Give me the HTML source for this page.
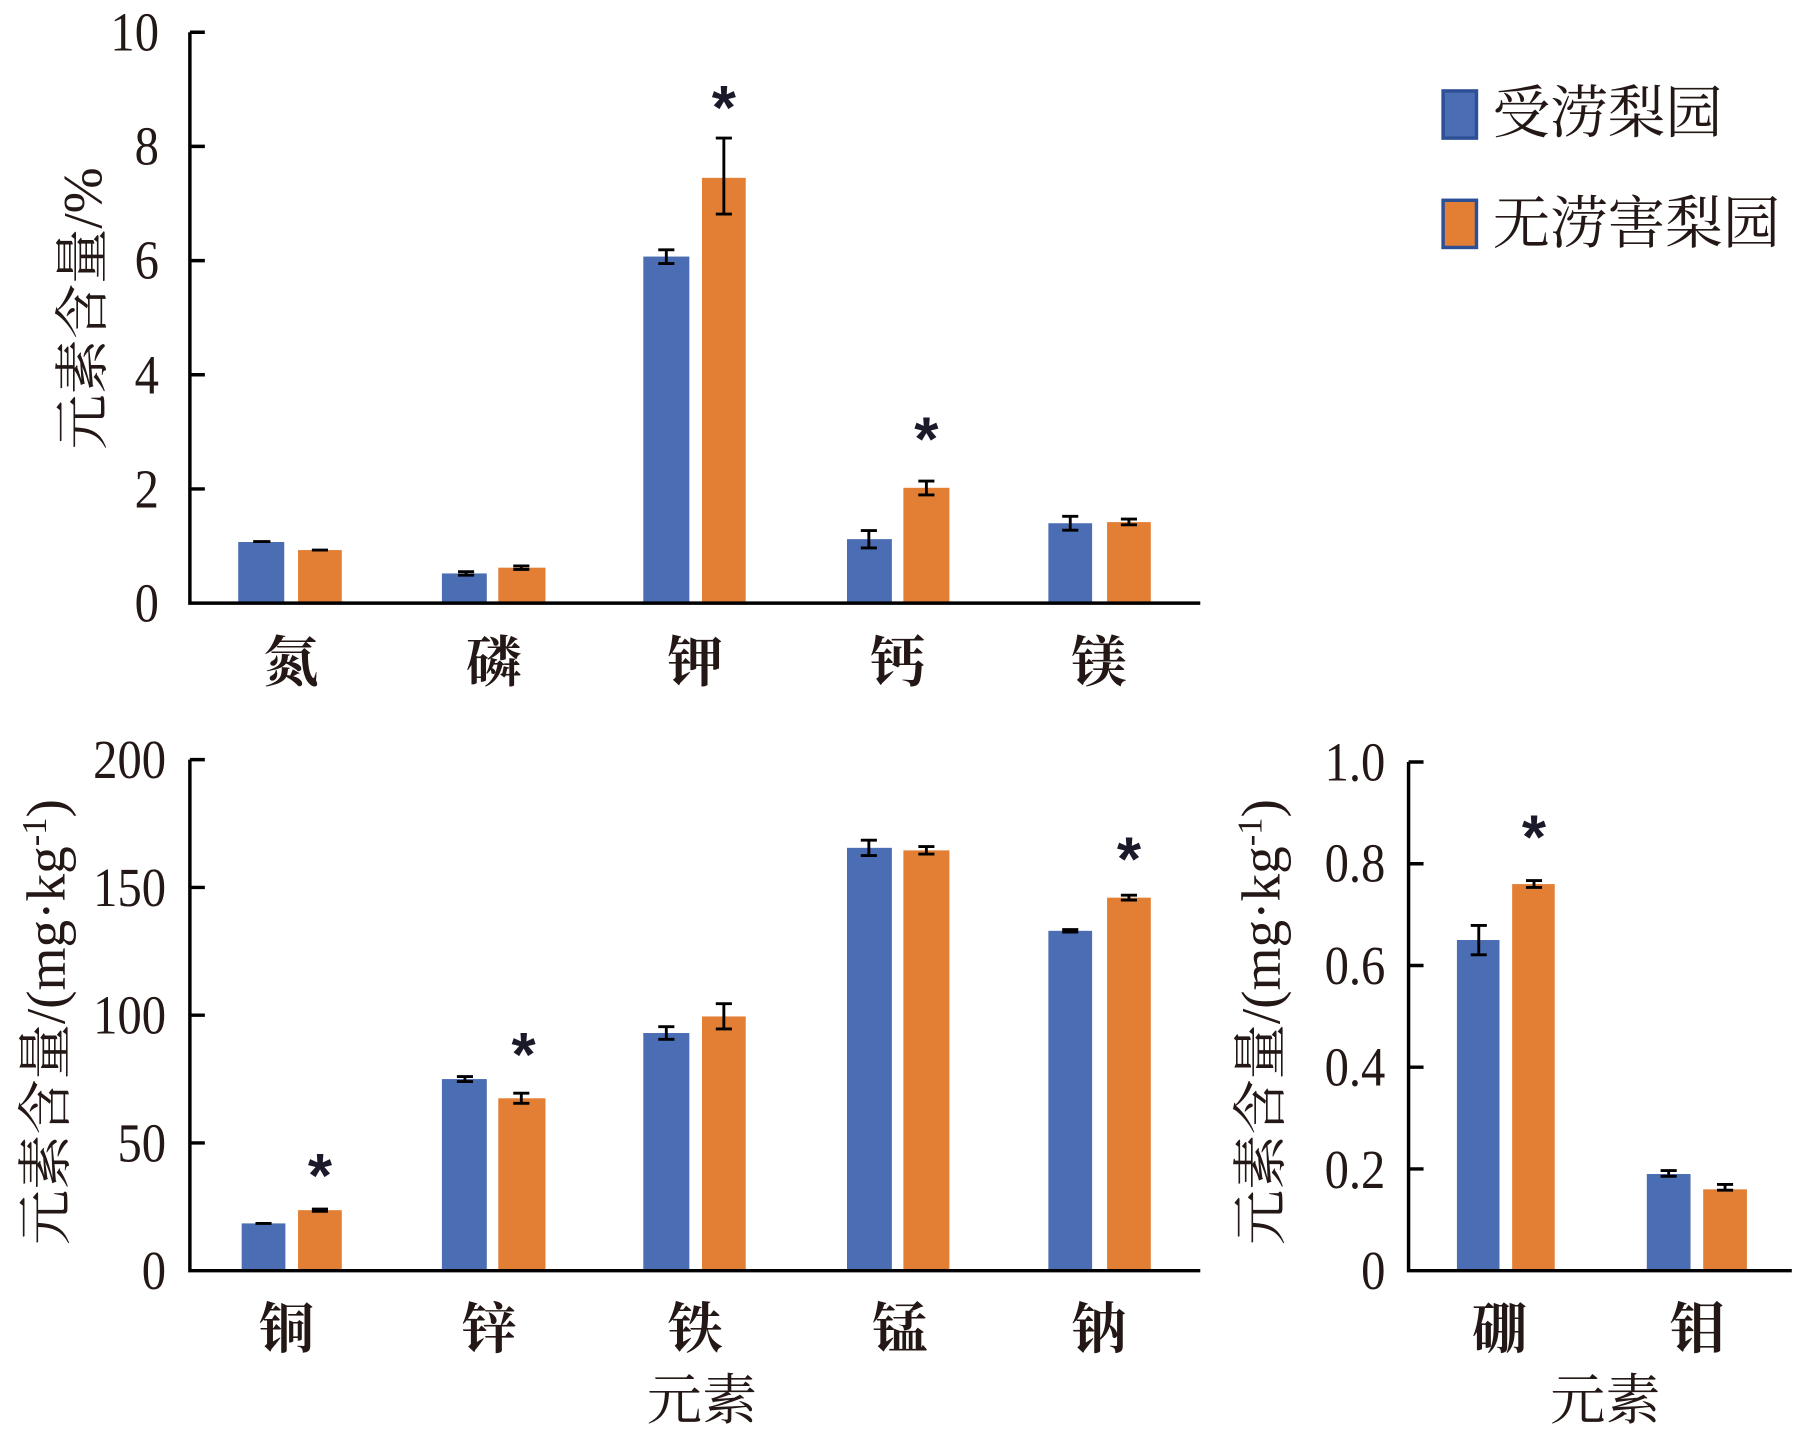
<!DOCTYPE html>
<html><head><meta charset="utf-8"><style>
html,body{margin:0;padding:0;background:#fff;width:1801px;height:1433px;overflow:hidden}
svg{display:block}
text{font-family:"Liberation Serif","Noto Serif CJK SC",serif;fill:#231815}
.n{font-size:48px}
.c{font-family:"Liberation Serif","Noto Serif CJK SC",serif;font-size:48px;font-weight:bold}
.b{fill:#4a6db3}.o{fill:#e37f35}
.ax{stroke:#000;stroke-width:3;fill:none}
.e{stroke:#000;stroke-width:2.5;fill:none}
.s{font-family:"Liberation Sans",sans-serif;font-size:54px;font-weight:bold;fill:#1a1a2a}
</style></head><body>
<svg width="1801" height="1433" viewBox="0 0 1565 1245" preserveAspectRatio="none" xmlns="http://www.w3.org/2000/svg">
<g>
<rect class="b" x="207" y="470.9" width="40" height="53.1"/>
<rect class="o" x="259" y="477.9" width="38" height="46.1"/>
<rect class="b" x="384" y="498.2" width="39" height="25.8"/>
<rect class="o" x="433" y="493.2" width="41" height="30.8"/>
<rect class="b" x="559" y="222.9" width="40" height="301.1"/>
<rect class="o" x="610" y="154.5" width="38" height="369.5"/>
<rect class="b" x="736" y="468.4" width="39" height="55.6"/>
<rect class="o" x="785" y="423.8" width="40" height="100.2"/>
<rect class="b" x="911" y="454.6" width="38" height="69.4"/>
<rect class="o" x="962" y="453.6" width="38" height="70.4"/>
<path class="e" d="M220,470.5h15 M405,496.7v3 M398,496.7h14M398,499.7h14 M453,491.7v3M446,491.7h14M446,494.7h14
M579,217v12M572,217h14M572,229h14
M629,120v66M622,120h14M622,186h14
M755,461v15M748,461h14M748,476h14
M805,418v12M798,418h14M798,430h14
M930,448.6v12M923,448.6h14M923,460.6h14
M981,451v5M974,451h14M974,456h14
M271,477.9h14"/>
<path class="ax" d="M165,28V524H1043 M165,28h13M165,127.2h13M165,226.4h13M165,325.6h13M165,424.8h13"/>
<g class="n" text-anchor="end" transform="scale(0.88,1)">
<text x="157" y="44">10</text><text x="157" y="143">8</text><text x="157" y="242">6</text><text x="157" y="342">4</text><text x="157" y="441">2</text><text x="157" y="540">0</text>
</g>
<text class="s" x="629" y="112" text-anchor="middle">*</text>
<text class="s" x="805" y="400" text-anchor="middle">*</text>
<g class="c" text-anchor="middle">
<text x="253" y="592">氮</text><text x="429" y="592">磷</text><text x="604" y="592">钾</text><text x="780" y="592">钙</text><text x="955" y="592">镁</text>
</g>
<text class="n" transform="translate(88,268) rotate(-90)" text-anchor="middle">元素含量/%</text>
</g>
<rect x="1254" y="79" width="29" height="41" fill="#4a6db3" stroke="#2d4f96" stroke-width="3"/>
<rect x="1254" y="174" width="29" height="41" fill="#e37f35" stroke="#2d4f96" stroke-width="3"/>
<text x="1297" y="115" style="font-size:50px">受涝梨园</text>
<text x="1297" y="211" style="font-size:50px">无涝害梨园</text>
<g>
<rect class="b" x="210" y="1062.9" width="38" height="41.1"/>
<rect class="o" x="259" y="1051.4" width="38" height="52.6"/>
<rect class="b" x="384" y="937.5" width="39" height="166.5"/>
<rect class="o" x="433" y="954.2" width="41" height="149.8"/>
<rect class="b" x="559" y="897.5" width="40" height="206.5"/>
<rect class="o" x="610" y="883.1" width="38" height="220.9"/>
<rect class="b" x="736" y="736.6" width="39" height="367.4"/>
<rect class="o" x="785" y="738.8" width="40" height="365.2"/>
<rect class="b" x="911" y="808.7" width="38" height="295.3"/>
<rect class="o" x="962" y="779.9" width="38" height="324.1"/>
<path class="e" d="M222,1062.9h14 M271,1050.4h14M271,1052.4h14
M397,935.3h14M397,939.7h14M404,935.3v4.4
M446,949.8h14M446,958.6h14M453,949.8v8.8
M572,892h14M572,903h14M579,892v11
M622,872h14M622,894h14M629,872v22
M748,730h14M748,743.3h14M755,730v13.3
M798,735.5h14M798,742h14M805,735.5v6.5
M923,807.6h14M923,809.8h14
M974,777.7h14M974,782h14M981,777.7v4.3"/>
<path class="ax" d="M165,660V1104H1043 M165,660h13M165,771h13M165,882h13M165,993h13"/>
<g class="n" text-anchor="end" transform="scale(0.88,1)">
<text x="164" y="676">200</text><text x="164" y="787">150</text><text x="164" y="898">100</text><text x="164" y="1009">50</text><text x="164" y="1120">0</text>
</g>
<text class="s" x="278" y="1040" text-anchor="middle">*</text>
<text class="s" x="455" y="935" text-anchor="middle">*</text>
<text class="s" x="981" y="765" text-anchor="middle">*</text>
<g class="c" text-anchor="middle">
<text x="249" y="1171">铜</text><text x="425" y="1171">锌</text><text x="604" y="1171">铁</text><text x="782" y="1171">锰</text><text x="955" y="1171">钠</text>
<text x="610" y="1233" style="font-weight:normal">元素</text>
</g>
<text class="n" transform="translate(56,888) rotate(-90)" text-anchor="middle">元素含量/(mg·kg<tspan dy="-16" font-size="30">-1</tspan><tspan dy="16">)</tspan></text>
</g>
<g>
<rect class="b" x="1266" y="816.7" width="37" height="287.3"/>
<rect class="o" x="1314" y="768.1" width="37" height="335.9"/>
<rect class="b" x="1431" y="1020" width="38" height="84"/>
<rect class="o" x="1480" y="1033.3" width="38" height="70.7"/>
<path class="e" d="M1278,804h14M1278,829.6h14M1285,804v25.6
M1326,765h14M1326,771h14M1333,765v6
M1443,1017h14M1443,1022h14M1450,1017v5
M1492,1029h14M1492,1034h14M1499,1029v5"/>
<path class="ax" d="M1224,662V1104H1557 M1224,662h13M1224,750.4h13M1224,838.8h13M1224,927.2h13M1224,1015.6h13"/>
<g class="n" text-anchor="end" transform="scale(0.88,1)">
<text x="1368" y="678">1.0</text><text x="1368" y="766">0.8</text><text x="1368" y="855">0.6</text><text x="1368" y="943">0.4</text><text x="1368" y="1032">0.2</text><text x="1368" y="1120">0</text>
</g>
<text class="s" x="1333" y="746" text-anchor="middle">*</text>
<g class="c" text-anchor="middle">
<text x="1303" y="1171">硼</text><text x="1475" y="1171">钼</text>
<text x="1395" y="1233" style="font-weight:normal">元素</text>
</g>
<text class="n" transform="translate(1112,888) rotate(-90)" text-anchor="middle">元素含量/(mg·kg<tspan dy="-16" font-size="30">-1</tspan><tspan dy="16">)</tspan></text>
</g>
</svg>
</body></html>
